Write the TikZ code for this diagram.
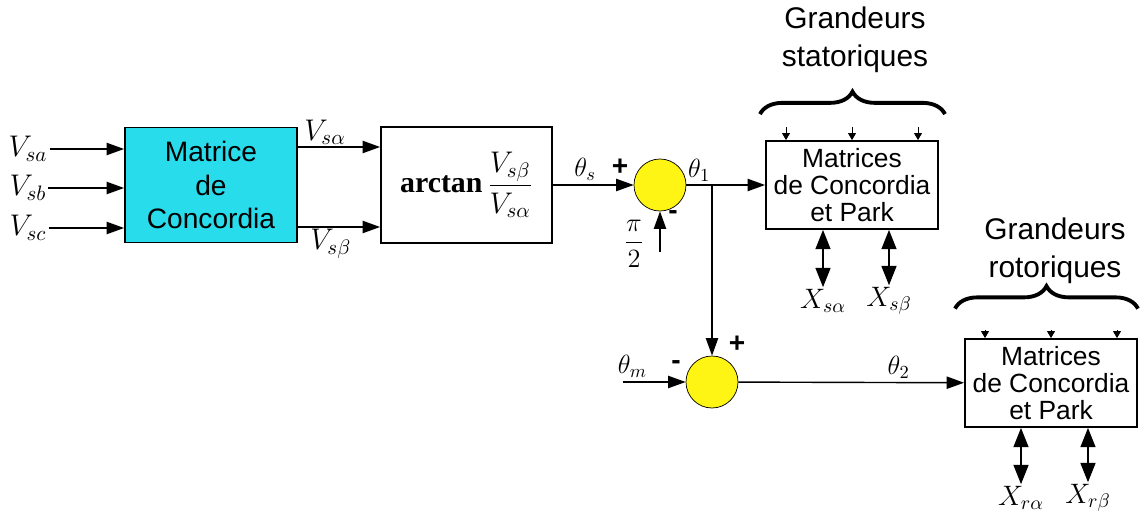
\RequirePackage{fix-cm}
\documentclass[tikz,border=0pt]{standalone}
\usepackage{amsmath}
\usepackage{fontspec}
\newfontfamily\arialfont{Liberation Sans}
\newfontfamily\timesfont{Liberation Serif}
\usetikzlibrary{arrows.meta, positioning, decorations.pathreplacing}
\definecolor{concblue}{RGB}{40,220,235}
\definecolor{sumyellow}{RGB}{255,245,20}
\tikzset{
	block/.style={draw, line width=1pt, inner sep=0pt, align=center},
	conc/.style={block, fill=concblue, minimum width=3.44cm, minimum height=2.3cm, font=\arialfont\fontsize{16}{19}\selectfont},
	pkbox/.style={block, minimum width=3.44cm, minimum height=1.76cm, font=\arialfont\fontsize{15}{15.6}\selectfont},
	sum/.style={circle, draw, fill=sumyellow, minimum size=1.04cm, inner sep=0pt},
	arr/.style={-{Triangle[length=10pt,width=7pt]}, line width=0.8pt},
	dblarr/.style={{Triangle[length=11pt,width=8.5pt]}-{Triangle[length=11pt,width=8.5pt]}, line width=1pt},
	tick/.style={-{Triangle[length=4pt,width=4.5pt]}, line width=0.5pt},
	bracedeco/.style={decorate, decoration={brace, amplitude=0.45cm}, line width=2.2pt},
	sign/.style={font=\arialfont\bfseries\fontsize{16}{16}\selectfont},
	lbl/.style={inner sep=1pt, font=\fontsize{17}{20}\selectfont},
	thlbl/.style={inner sep=2pt, font=\fontsize{15}{17}\selectfont},
	xlbl/.style={inner sep=1pt, font=\fontsize{16}{18}\selectfont},
	title/.style={align=center, font=\arialfont\fontsize{17}{21.5}\selectfont}
}

\begin{document}
\begin{tikzpicture}
	\useasboundingbox (0,0) rectangle (22.86,10.24);
	
	% ==========================================
	% Concordia + arctan
	% ==========================================
	\node[conc] (conc) at (4.22,6.54) {Matrice\\de\\Concordia};
	\node[lbl] (va) at (0.56,7.26) {$V_{sa}$};
	\node[lbl] (vb) at (0.56,6.48) {$V_{sb}$};
	\node[lbl] (vc) at (0.56,5.68) {$V_{sc}$};
	\foreach \v in {va,vb,vc} \draw[arr] (\v.east) -- (\v.east -| conc.west);
	
	\node[block, minimum width=3.42cm, minimum height=2.32cm, font=\fontsize{17}{20}\selectfont] (arctan) at (9.33,6.54)
		{$\text{\timesfont\bfseries arctan}\,\dfrac{V_{s\beta}}{V_{s\alpha}}$};
	\draw[arr] ([yshift=0.76cm]conc.east) -- ([yshift=0.76cm]arctan.west) node[lbl, pos=0.33, above] {$V_{s\alpha}$};
	\draw[arr] ([yshift=-0.84cm]conc.east) -- ([yshift=-0.84cm]arctan.west) node[lbl, pos=0.4, below] {$V_{s\beta}$};
	
	% ==========================================
	% theta_1 = theta_s - pi/2
	% ==========================================
	\node[sum] (sum1) at (13.2,6.54) {};
	\draw[arr] (arctan) -- (sum1) node[thlbl, pos=0.4, above] {$\theta_s$};
	\node[sign] (p1) at (12.4,6.9) {+};
	\node[sign] (m1) at (13.46,5.94) {-};
	\node[font=\fontsize{15}{18}\selectfont] (pi) at (12.68,5.36) {$\dfrac{\pi}{2}$};
	\coordinate (piin) at (13.2,5.2);
	\draw[arr] (piin) -- (sum1.south);
	
	\coordinate (branch) at (14.24,6.54);
	
	% --- statoric block ---
	\node[pkbox] (stat) at (17.04,6.54) {Matrices\\de Concordia\\et Park};
	\draw[arr] (sum1) -- (stat);
	\path (sum1.east) -- (branch) node[thlbl, midway, above] {$\theta_1$};
	\foreach \dx in {-1.32,0,1.32} \draw[tick] ([xshift=\dx cm,yshift=0.26cm]stat.north) -- ([xshift=\dx cm]stat.north);
	\draw[bracedeco] ([xshift=-1.84cm,yshift=0.52cm]stat.north) -- ([xshift=1.86cm,yshift=0.52cm]stat.north);
	\node[title] (gstat) at (17.1,9.44) {Grandeurs\\statoriques};
	\node[xlbl] (xsa) at (16.46,4.22) {$X_{s\alpha}$};
	\node[xlbl] (xsb) at (17.78,4.22) {$X_{s\beta}$};
	\foreach \x in {xsa,xsb} \draw[dblarr] (stat.south -| \x) -- (\x.north);
	
	% ==========================================
	% theta_2 = theta_1 - theta_m
	% ==========================================
	\node[sum] (sum2) at (14.24,2.6) {};
	\draw[arr] (branch) -- (sum2);
	\coordinate (thmin) at (12.46,2.6);
	\draw[arr] (thmin) -- (sum2) node[thlbl, pos=0.15, above] {$\theta_m$};
	\node[sign] (m2) at (13.52,2.94) {-};
	\node[sign] (p2) at (14.74,3.36) {+};
	
	% --- rotoric block ---
	\node[pkbox] (rot) at (21.02,2.58) {Matrices\\de Concordia\\et Park};
	\draw[arr] (sum2) -- (rot) node[thlbl, pos=0.71, above] {$\theta_2$};
	\foreach \dx in {-1.32,0,1.32} \draw[tick] ([xshift=\dx cm,yshift=0.16cm]rot.north) -- ([xshift=\dx cm]rot.north);
	\draw[bracedeco] ([xshift=-1.92cm,yshift=0.59cm]rot.north) -- ([xshift=1.74cm,yshift=0.59cm]rot.north);
	\node[title] (grot) at (21.1,5.22) {Grandeurs\\rotoriques};
	\node[xlbl] (xra) at (20.42,0.28) {$X_{r\alpha}$};
	\node[xlbl] (xrb) at (21.76,0.28) {$X_{r\beta}$};
	\foreach \x in {xra,xrb} \draw[dblarr] (rot.south -| \x) -- (\x.north);
	
\end{tikzpicture}
\end{document}
